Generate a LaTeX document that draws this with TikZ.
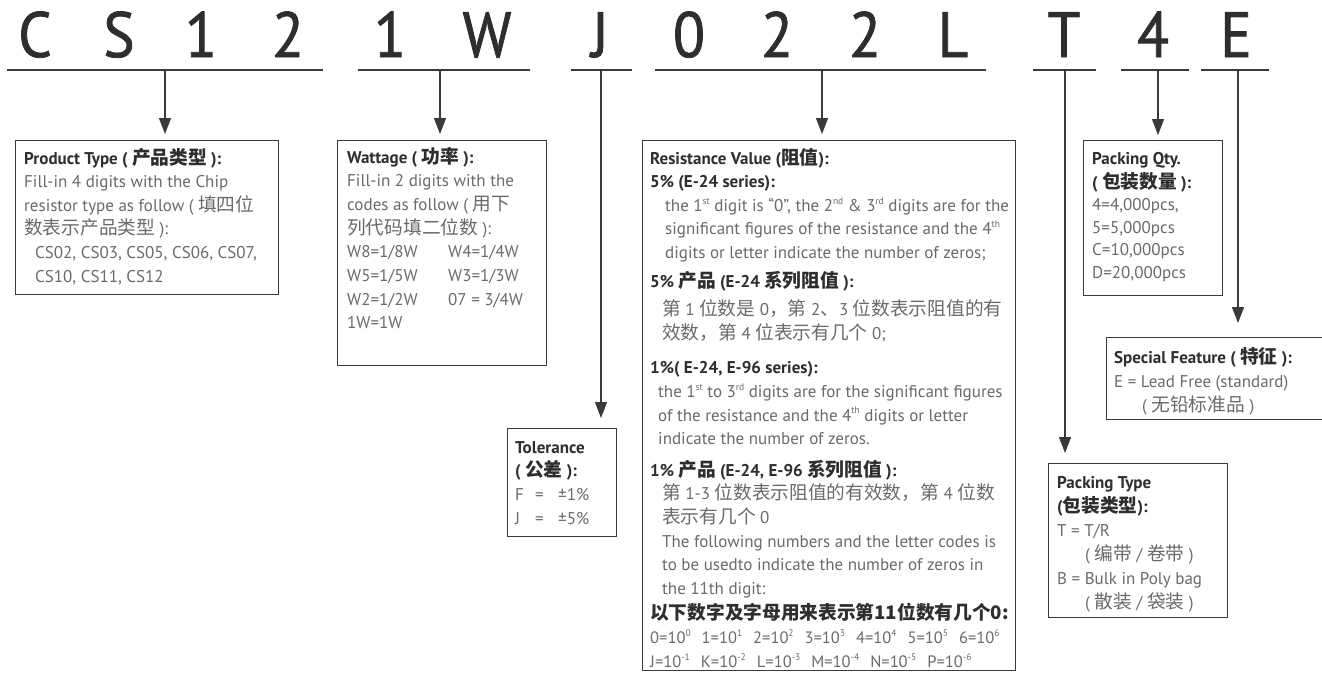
\documentclass[tikz,border=0pt]{standalone}
\usepackage{fontspec}
\setmainfont{PT Sans}
\newfontfamily\cjkf{Noto Sans CJK SC}[Scale=1.1]
\newfontfamily\titlef{PT Sans}[FakeBold=1.2,FakeStretch=0.92]
\usetikzlibrary{arrows.meta}
\definecolor{ln}{HTML}{3A3A3A}
\definecolor{bodyc}{HTML}{6A6A6A}
\definecolor{hdc}{HTML}{2E2E2E}
\newcommand{\zh}[1]{{\cjkf #1}}
\newcommand{\hd}[1]{{\bfseries\color{hdc}#1}}
\newcommand{\fs}{\fontsize{17}{23.6}\selectfont}
\newcommand{\sps}[1]{\raisebox{0.42em}{\fontsize{9.5}{9.5}\selectfont #1}}
\begin{document}
\begin{tikzpicture}[x=1pt,y=-1pt,
  ul/.style={draw=ln, line width=1.3pt},
  arr/.style={draw=ln, line width=1.2pt, -{Triangle[length=16pt,width=12pt]}},
  box/.style={draw=ln, line width=1.2pt, rectangle, inner sep=0pt, anchor=north west},
  txt/.style={anchor=base west, inner sep=0pt, text=bodyc},
  big/.style={anchor=base, inner sep=0pt, text=hdc, font=\titlef\fontsize{64}{64}\selectfont}]
\useasboundingbox (0,0) rectangle (1322,672);
\fill[white] (0,0) rectangle (1322,672);
% code letters
\node[big] (l1) at (35,57) {C};
\node[big] (l2) at (119,57) {S};
\node[big] (l3) at (201,57) {1};
\node[big] (l4) at (288,57) {2};
\node[big] (l5) at (390,57) {1};
\node[big] (l6) at (487,57) {W};
\node[big] (l7) at (600,57) {J};
\node[big] (l8) at (689,57) {0};
\node[big] (l9) at (777,57) {2};
\node[big] (l10) at (865,57) {2};
\node[big] (l11) at (953,57) {L};
\node[big] (l12) at (1064,57) {T};
\node[big] (l13) at (1153,57) {4};
\node[big] (l14) at (1236,57) {E};
% underlines
\coordinate (a1) at (7,70);    \coordinate (b1) at (323,70);  \coordinate (m1) at (165,70);
\coordinate (a2) at (358,70);  \coordinate (b2) at (530,70);  \coordinate (m2) at (440,70);
\coordinate (a3) at (571,70);  \coordinate (b3) at (632,70);  \coordinate (m3) at (601,70);
\coordinate (a4) at (655,70);  \coordinate (b4) at (986,70);  \coordinate (m4) at (822,70);
\coordinate (a5) at (1033,70); \coordinate (b5) at (1096,70); \coordinate (m5) at (1065,70);
\coordinate (a6) at (1121,70); \coordinate (b6) at (1189,70); \coordinate (m6) at (1158,70);
\coordinate (a7) at (1201,70); \coordinate (b7) at (1269,70); \coordinate (m7) at (1238,70);
\foreach \i in {1,...,7} {\draw[ul] (a\i) -- (b\i);}
% boxes
\node[box, minimum width=263pt, minimum height=154pt] (prod) at (15,140) {};
\node[box, minimum width=209pt, minimum height=225pt] (watt) at (337,140) {};
\node[box, minimum width=109pt, minimum height=108pt] (tol) at (507,428) {};
\node[box, minimum width=373pt, minimum height=530pt] (res) at (642,140) {};
\node[box, minimum width=139pt, minimum height=155pt] (qty) at (1083,140) {};
\node[box, minimum width=230pt, minimum height=82pt] (spec) at (1106,337) {};
\node[box, minimum width=179pt, minimum height=154pt] (ptype) at (1048,463) {};
% arrows
\draw[arr, shorten >=6pt] (m1) -- (m1 |- prod.north);
\draw[arr, shorten >=6pt] (m2) -- (m2 |- watt.north);
\draw[arr, shorten >=10pt] (m3) -- (m3 |- tol.north);
\draw[arr, shorten >=6pt] (m4) -- (m4 |- res.north);
\draw[arr, shorten >=10pt] (m5) -- (m5 |- ptype.north);
\draw[arr, shorten >=5pt] (m6) -- (m6 |- qty.north);
\draw[arr, shorten >=14pt] (m7) -- (m7 |- spec.north);
% texts
\node[txt] (tprod) at (24,164) {\fs\begin{tabular}[t]{@{}l@{}}
\hd{Product Type ( \zh{产品类型} ):}\\
Fill-in 4 digits with the Chip\\
resistor type as follow ( \zh{填四位}\\
\zh{数表示产品类型} ):\\
\hspace*{11pt}CS02, CS03, CS05, CS06, CS07,\\
\hspace*{11pt}CS10, CS11, CS12
\end{tabular}};
\node[txt] (twatt) at (347,163) {\fontsize{17}{23.7}\selectfont\begin{tabular}[t]{@{}l@{}}
\hd{Wattage ( \zh{功率} ):}\\
Fill-in 2 digits with the\\
codes as follow ( \zh{用下}\\
\zh{列代码填二位数} ):\\
\makebox[101pt][l]{W8=1/8W}W4=1/4W\\
\makebox[101pt][l]{W5=1/5W}W3=1/3W\\
\makebox[101pt][l]{W2=1/2W}07 = 3/4W\\
1W=1W
\end{tabular}};
\node[txt] (ttol) at (515,453) {\fontsize{17}{23.7}\selectfont\begin{tabular}[t]{@{}l@{}}
\hd{Tolerance}\\
\hd{( \zh{公差} ):}\\
\makebox[20pt][l]{F}\makebox[23pt][l]{=}±1\%\\
\makebox[20pt][l]{J}\makebox[23pt][l]{=}±5\%
\end{tabular}};
\node[txt] (tres) at (650,164) {\fs\begin{tabular}[t]{@{}l@{}}
\hd{Resistance Value (\zh{阻值}):}\\
\hd{5\% (E-24 series):}\\
\hspace*{15pt}the 1\sps{st} digit is “0”, the 2\sps{nd} \& 3\sps{rd} digits are for the\\
\hspace*{15pt}significant figures of the resistance and the 4\sps{th}\\
\hspace*{15pt}digits or letter indicate the number of zeros;\\[5pt]
\hd{5\% \zh{产品} (E-24 \zh{系列阻值} ):}\\[5pt]
\hspace*{12pt}\zh{第} 1 \zh{位数是} 0\zh{，第} 2\zh{、}3 \zh{位数表示阻值的有}\\
\hspace*{12pt}\zh{效数，第} 4 \zh{位表示有几个} 0;\\[11pt]
\hd{1\%( E-24, E-96 series):}\\
\hspace*{8pt}the 1\sps{st} to 3\sps{rd} digits are for the significant figures\\
\hspace*{8pt}of the resistance and the 4\sps{th} digits or letter\\
\hspace*{8pt}indicate the number of zeros.\\[8pt]
\hd{1\% \zh{产品} (E-24, E-96 \zh{系列阻值} ):}\\
\hspace*{12pt}\zh{第} 1-3 \zh{位数表示阻值的有效数，第} 4 \zh{位数}\\
\hspace*{12pt}\zh{表示有几个} 0\\
\hspace*{12pt}The following numbers and the letter codes is\\
\hspace*{12pt}to be usedto indicate the number of zeros in\\
\hspace*{12pt}the 11th digit:\\[2pt]
{\color{hdc}\zh{\bfseries 以下数字及字母用来表示第11位数有几个0:}}\\
{\fontsize{16.5}{18}\selectfont 0=10\sps{0}\hspace{11pt}1=10\sps{1}\hspace{11pt}2=10\sps{2}\hspace{11pt}3=10\sps{3}\hspace{11pt}4=10\sps{4}\hspace{11pt}5=10\sps{5}\hspace{11pt}6=10\sps{6}}\\
{\fontsize{16.5}{18}\selectfont J=10\sps{-1}\hspace{11pt}K=10\sps{-2}\hspace{11pt}L=10\sps{-3}\hspace{11pt}M=10\sps{-4}\hspace{11pt}N=10\sps{-5}\hspace{11pt}P=10\sps{-6}}
\end{tabular}};
\node[txt] (tqty) at (1092,164) {\fontsize{17}{22.5}\selectfont\begin{tabular}[t]{@{}l@{}}
\hd{Packing Qty.}\\[1.5pt]
\hd{( \zh{包装数量} ):}\\
4=4,000pcs,\\
5=5,000pcs\\
C=10,000pcs\\
D=20,000pcs
\end{tabular}};
\node[txt] (tspec) at (1114,363) {\fontsize{17}{24}\selectfont\begin{tabular}[t]{@{}l@{}}
\hd{Special Feature ( \zh{特征} ):}\\
E = Lead Free (standard)\\
\hspace*{28pt}( \zh{无铅标准品} )
\end{tabular}};
\node[txt] (tptype) at (1057,488) {\fontsize{17}{24}\selectfont\begin{tabular}[t]{@{}l@{}}
\hd{Packing Type}\\
\hd{(\zh{包装类型}):}\\
T = T/R\\
\hspace*{28pt}( \zh{编带} / \zh{卷带} )\\
B = Bulk in Poly bag\\
\hspace*{28pt}( \zh{散装} / \zh{袋装} )
\end{tabular}};
\end{tikzpicture}
\end{document}
